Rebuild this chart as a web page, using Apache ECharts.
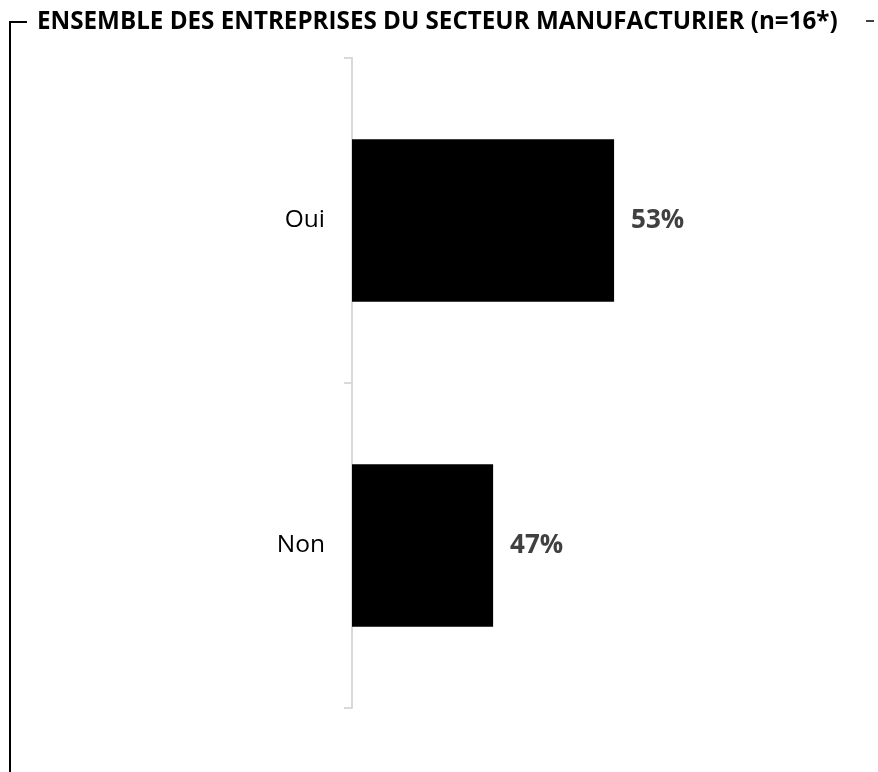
<!DOCTYPE html>
<html><head><meta charset="utf-8">
<script src="https://cdn.jsdelivr.net/npm/echarts@6/dist/echarts.min.js"></script>
<style>html,body{margin:0;padding:0;background:#fff}#c{width:878px;height:772px}</style>
</head><body><div id="c"></div>
<script>
const titleText = 'ENSEMBLE DES ENTREPRISES DU SECTEUR MANUFACTURIER (n=16*)';
const categories = ['Oui', 'Non'];
const values = [53, 47];
const axisMin = 40, axisMax = 65;

const chart = echarts.init(document.getElementById('c'));
chart.setOption({
  animation: false,
  backgroundColor: '#fff',
  title: {
    text: titleText, left: 37, top: 10, padding: 0,
    textStyle: {fontFamily: 'Open Sans', fontWeight: 'bold', fontSize: 24.2, color: '#000'}
  },
  grid: {left: 352, right: 22, top: 58, bottom: 64},
  xAxis: {type: 'value', min: axisMin, max: axisMax, show: false},
  yAxis: {
    type: 'category', data: categories, inverse: true,
    axisLine: {show: true, lineStyle: {color: '#d9d9d9', width: 2}},
    axisTick: {show: true, length: 8, lineStyle: {color: '#d9d9d9', width: 2}},
    axisLabel: {margin: 27, fontFamily: 'Open Sans', fontSize: 24.5, color: '#000'}
  },
  series: [{
    type: 'bar', data: values, barWidth: '50%',
    itemStyle: {color: '#000'},
    label: {show: true, position: 'right', distance: 17, formatter: '{c}%',
      fontFamily: 'Open Sans', fontWeight: 'bold', fontSize: 26, color: '#404040'}
  }],
  graphic: [
    {type: 'polyline', shape: {points: [[27, 22], [10, 22], [10, 772]]}, style: {stroke: '#000', lineWidth: 2, fill: null}},
    {type: 'line', shape: {x1: 866, y1: 21, x2: 874, y2: 21}, style: {stroke: '#000', lineWidth: 1.5}}
  ]
});
</script></body></html>
